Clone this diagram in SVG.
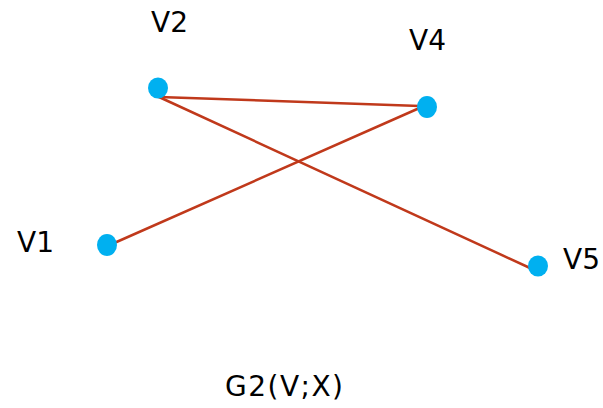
<svg xmlns="http://www.w3.org/2000/svg" width="603" height="408" viewBox="0 0 603 408">
<style>
.e{stroke:#c0391b;stroke-width:2.5;fill:none;stroke-linecap:round}
.n{fill:#00b0f0}
.t{font-family:"DejaVu Sans",sans-serif;font-size:28px;fill:#000}
</style>
<rect width="603" height="408" fill="#fff"/>
<g id="edges">
<line class="e" x1="159" y1="97" x2="420" y2="106"/>
<line class="e" x1="159" y1="97" x2="530" y2="268"/>
<line class="e" x1="112" y1="244" x2="424" y2="106"/>
</g>
<g id="V2"><ellipse class="n" cx="158" cy="88" rx="10" ry="10.5"/><text class="t" x="151" y="32">V2</text></g>
<g id="V4"><ellipse class="n" cx="427" cy="107" rx="10" ry="11"/><text class="t" x="409" y="50">V4</text></g>
<g id="V1"><ellipse class="n" cx="107" cy="245" rx="10" ry="11"/><text class="t" x="17" y="252">V1</text></g>
<g id="V5"><ellipse class="n" cx="538" cy="266" rx="10" ry="10.5"/><text class="t" x="563" y="269">V5</text></g>
<text class="t" x="225" y="396" textLength="118" lengthAdjust="spacing">G2(V;X)</text>
</svg>
